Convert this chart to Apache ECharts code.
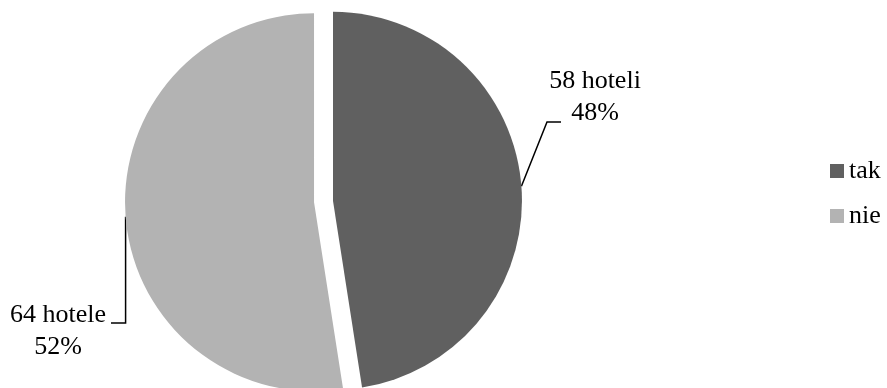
<!DOCTYPE html>
<html>
<head>
<meta charset="utf-8">
<script src="https://cdn.jsdelivr.net/npm/echarts@6/dist/echarts.min.js"></script>
<style>
html,body{margin:0;padding:0;background:#fff;}
#chart{width:887px;height:388px;}
</style>
</head>
<body>
<div id="chart"></div>
<script>
const categories = ['tak', 'nie'];
const hotelCounts = [58, 64];
const hotelWords = ['hoteli', 'hotele'];
const sliceColors = ['#606060', '#b3b3b3'];

const FONT = "'Liberation Serif', 'Times New Roman', serif";
const OFFSET = 9.5;

const chart = echarts.init(document.getElementById('chart'));

const total = hotelCounts.reduce((a, b) => a + b, 0);
function sliceShift(idx) {
  let cum = 0;
  for (let i = 0; i < idx; i++) cum += hotelCounts[i];
  const mid = (cum + hotelCounts[idx] / 2) / total;
  const th = (90 - mid * 360) * Math.PI / 180;
  return [OFFSET * Math.cos(th), -OFFSET * Math.sin(th)];
}

const pieData = categories.map((c, i) => ({
  name: c,
  value: hotelCounts[i],
  selected: true,
  itemStyle: { color: sliceColors[i] },
  select: { itemStyle: { color: sliceColors[i], borderWidth: 0 } }
}));

chart.setOption({
  animation: false,
  backgroundColor: '#ffffff',
  legend: {
    orient: 'vertical',
    left: 830,
    top: 158,
    padding: 0,
    itemWidth: 14,
    itemHeight: 14,
    itemGap: 19,
    icon: 'rect',
    selectedMode: false,
    textStyle: { fontFamily: FONT, fontSize: 26, lineHeight: 26, color: '#000' },
    data: categories
  },
  series: [{
    type: 'pie',
    center: [323.5, 201.5],
    radius: [0, 189],
    startAngle: 90,
    clockwise: true,
    selectedMode: 'multiple',
    selectedOffset: OFFSET,
    silent: true,
    emphasis: { disabled: true },
    label: {
      show: true,
      position: 'outside',
      fontFamily: FONT,
      fontSize: 26,
      lineHeight: 32,
      color: '#000',
      overflow: 'none',
      formatter: function (p) {
        return '{a|' + p.value + ' ' + hotelWords[p.dataIndex] + '}\n{a|' + Math.round(p.percent) + '%}';
      },
      rich: {
        a: { width: 110, align: 'center', fontFamily: FONT, fontSize: 26, lineHeight: 32, color: '#000' }
      }
    },
    labelLine: { show: true, lineStyle: { color: '#000', width: 1.5 } },
    labelLayout: function (p) {
      const s = p.labelLinePoints ? p.labelLinePoints[0] : [0, 0];
      const r = p.labelRect;
      const sh = sliceShift(p.dataIndex);
      let lx, ly, pts;
      if (p.dataIndex === 0) {
        lx = 595 - sh[0]; ly = 97 - sh[1];
        pts = [s, [lx - 48, ly + 25], [lx - 34, ly + 25]];
      } else {
        lx = 58 - sh[0]; ly = 331 - sh[1];
        pts = [s, [s[0], ly - 8], [lx + 53, ly - 8]];
      }
      return {
        dx: lx - (r.x + r.width / 2),
        dy: ly - (r.y + r.height / 2),
        labelLinePoints: pts
      };
    },
    data: pieData
  }]
});
</script>
</body>
</html>
